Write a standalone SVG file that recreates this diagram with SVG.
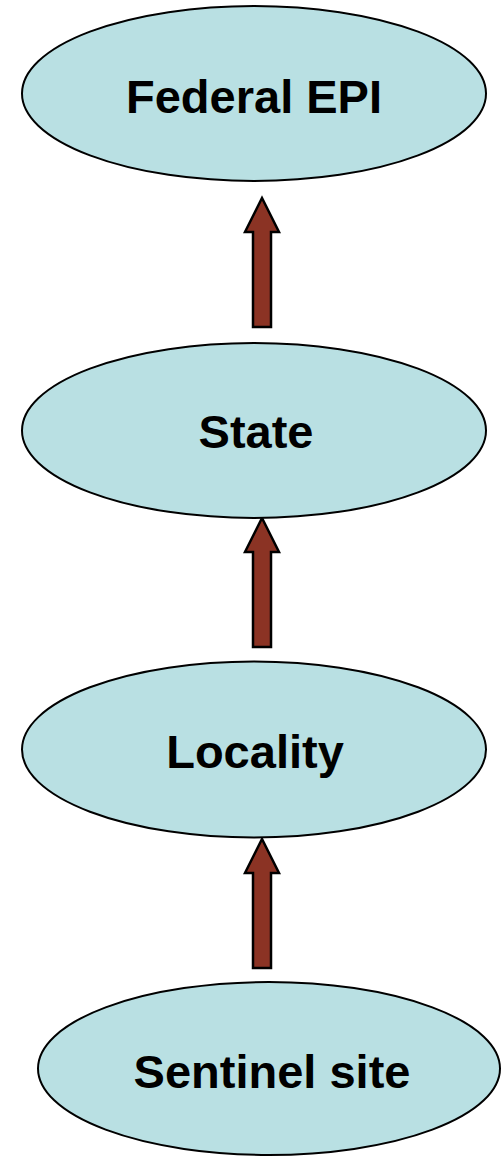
<svg xmlns="http://www.w3.org/2000/svg" width="502" height="1158" viewBox="0 0 502 1158">
<style>
.node ellipse{fill:#b9e0e3;stroke:#000;stroke-width:2}
.node text{font-family:"Liberation Sans",Arial,sans-serif;font-weight:bold;font-size:47px;text-anchor:middle;fill:#000}
.arrow{fill:#8b3324;stroke:#000;stroke-width:2.5;stroke-linejoin:miter}
</style>
<rect width="502" height="1158" fill="#fff"/>
<g id="connectors">
<path class="arrow" d="M253,327 V232 H245 L262,198 L279,232 H271 V327 Z"/>
<path class="arrow" d="M253,647 V552 H245 L262,518 L279,552 H271 V647 Z"/>
<path class="arrow" d="M253,968 V873 H245 L262,839 L279,873 H271 V968 Z"/>
</g>
<g id="federal" class="node"><ellipse cx="254" cy="93.5" rx="232" ry="87.5"/><text x="254" y="113">Federal EPI</text></g>
<g id="state" class="node"><ellipse cx="254" cy="430.5" rx="232" ry="87.5"/><text x="256" y="448">State</text></g>
<g id="locality" class="node"><ellipse cx="254" cy="749.5" rx="232" ry="88"/><text x="255" y="768">Locality</text></g>
<g id="sentinel" class="node"><ellipse cx="269" cy="1068.5" rx="231" ry="86.5"/><text x="272" y="1088">Sentinel site</text></g>
</svg>
